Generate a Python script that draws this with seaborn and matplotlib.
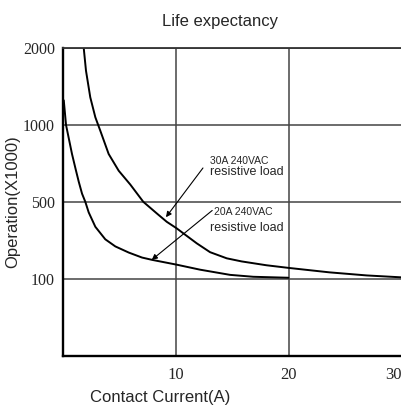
import numpy as np
import matplotlib
matplotlib.use('Agg')
import matplotlib.pyplot as plt
import seaborn as sns

# values (contact current in A, operations x1000)
current_30a = [1.81, 2.01, 2.39, 2.84, 3.28, 4.02, 4.91, 5.94, 7.09, 8.28, 9.17,
               10.05, 10.64, 11.83, 13.01, 14.49, 15.8, 18.0, 20.0, 23.6, 26.9, 30.0]
ops_30a = [2000, 1705, 1359, 1099, 962, 811, 702, 612, 500, 440, 396,
           362, 336, 284, 238, 206, 190, 170, 156, 133, 117, 107]

current_20a = [0.04, 0.24, 0.77, 1.1, 1.37, 1.66, 1.95, 2.25, 2.84, 3.72, 4.61,
               5.8, 6.98, 7.87, 10.05, 12.12, 14.78, 16.84, 19.95]
ops_20a = [1320, 1000, 811, 710, 630, 553, 500, 445, 370, 305, 268,
           236, 210, 198, 173, 147, 120, 110, 105]

y_ticks = [100, 500, 1000, 2000]
x_ticks = [10, 20, 30]

# the y axis is evenly spaced between the labelled values
breaks = [0, 100, 500, 1000, 2000]
steps = [0, 1, 2, 3, 4]


def fwd(v):
    return np.interp(v, breaks, steps)


def inv(p):
    return np.interp(p, steps, breaks)


sns.set_style('white')
plt.rcParams['font.family'] = ['Liberation Sans', 'DejaVu Sans']

fig = plt.figure(figsize=(4.02, 4.07), dpi=100)
ax = fig.add_axes([0.1575, 0.1263, 0.8418, 0.7557])
ax.set_yscale('function', functions=(fwd, inv))

sns.lineplot(x=current_30a, y=ops_30a, ax=ax, color='black', lw=1.4, estimator=None)
sns.lineplot(x=current_20a, y=ops_20a, ax=ax, color='black', lw=1.4, estimator=None)

ax.set_xlim(0, 30)
ax.set_ylim(0, 2000)
ax.set_xticks(x_ticks)
ax.set_yticks(y_ticks)
ax.set_xticklabels([str(t) for t in x_ticks], family='Liberation Serif', fontsize=12)
ax.set_yticklabels([str(t) for t in y_ticks], family='Liberation Serif', fontsize=11.5)
ax.get_xticklabels()[-1].set_horizontalalignment('right')
ax.tick_params(length=0, pad=6)
ax.tick_params(axis='x', pad=8)

ax.grid(True, color='#444444', lw=1.1)
for side in ['top', 'right']:
    ax.spines[side].set_color('#333333')
    ax.spines[side].set_linewidth(1.3)
for side in ['left', 'bottom']:
    ax.spines[side].set_color('black')
    ax.spines[side].set_linewidth(1.7)

ax.set_xlabel('Contact Current(A)', fontsize=12)
ax.xaxis.set_label_coords(0.286, -0.112)
ax.set_ylabel('Operation(X1000)', fontsize=12)
ax.yaxis.set_label_coords(-0.128, 0.5)

fig.text(0.547, 0.948, 'Life expectancy', ha='center', va='center', fontsize=12)

# labels with arrows pointing at the curves
ax.text(13.0, 765, '30A 240VAC', fontsize=7.5, va='center')
ax.text(13.0, 692, 'resistive load', fontsize=9, va='center')
ax.text(13.35, 447, '20A 240VAC', fontsize=7.5, va='center')
ax.text(13.0, 364, 'resistive load', fontsize=9, va='center')
arrow = dict(arrowstyle='-|>', color='black', lw=0.8, mutation_scale=8, shrinkA=0, shrinkB=0)
ax.annotate('', xy=(9.1, 420), xytext=(12.38, 720), arrowprops=arrow)
ax.annotate('', xy=(7.84, 198), xytext=(13.2, 455), arrowprops=arrow)

fig.savefig('out.png', dpi=100)
